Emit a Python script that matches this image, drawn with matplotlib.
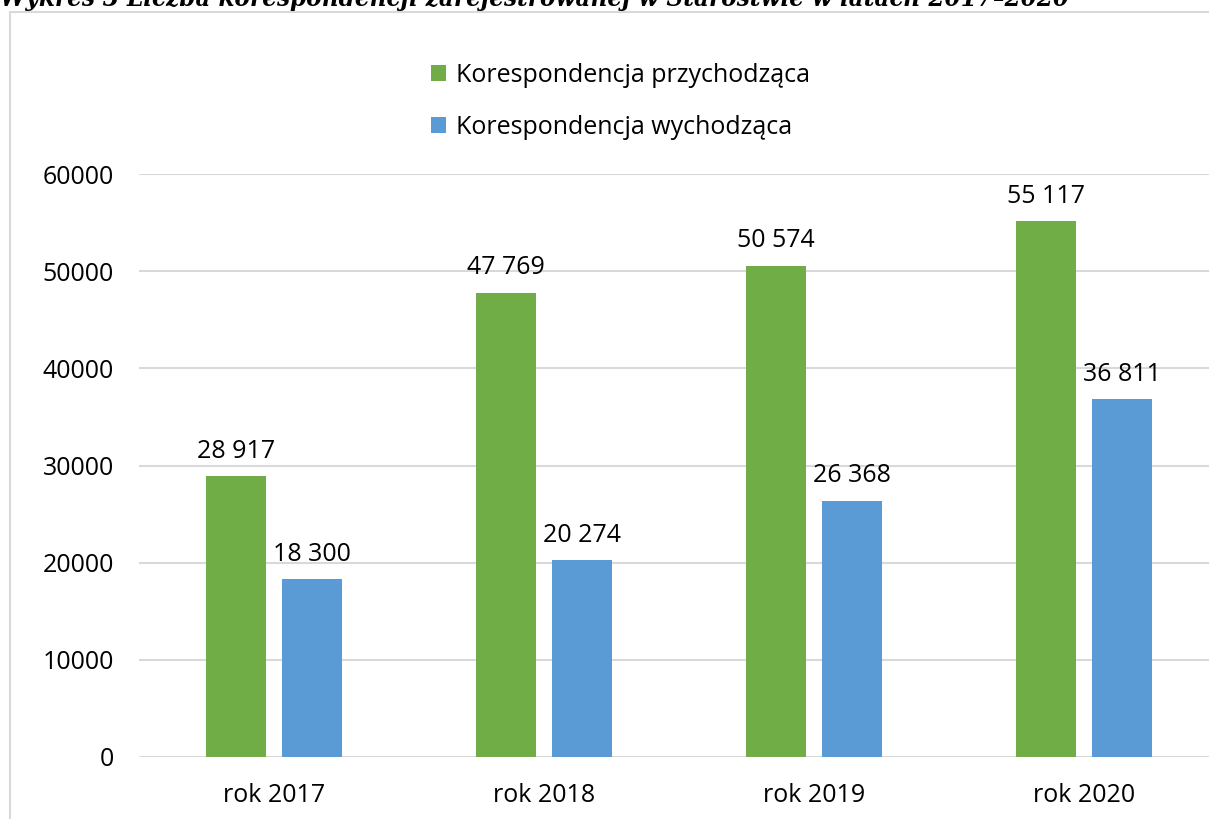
import numpy as np
import matplotlib
matplotlib.use('Agg')
import matplotlib.pyplot as plt
from matplotlib.patches import Rectangle

categories = ['rok 2017', 'rok 2018', 'rok 2019', 'rok 2020']
incoming = [28917, 47769, 50574, 55117]
outgoing = [18300, 20274, 26368, 36811]
series_names = ['Korespondencja przychodząca', 'Korespondencja wychodząca']
yticks = [0, 10000, 20000, 30000, 40000, 50000, 60000]
title = 'Wykres 3 Liczba korespondencji zarejestrowanej w Starostwie w latach 2017–2020'

green = '#70ad47'
blue = '#5b9bd5'
grid = '#d9d9d9'
fs = 18

plt.rcParams['font.family'] = ['Open Sans', 'DejaVu Sans']

W, H = 1209, 819
fig = plt.figure(figsize=(W / 100, H / 100), dpi=100)

# chart frame (cut at right and bottom like the original)
fig.patches.append(Rectangle((10 / W, -0.1), 1.1, 1 - 12 / H + 0.1, transform=fig.transFigure,
                             fill=False, edgecolor=grid, linewidth=1.5))

# title, cut at the top edge as in the source page
fig.text(0.0, 1 - 6 / H, title, family='DejaVu Serif', fontstretch='condensed',
         fontweight='bold', fontstyle='italic', fontsize=18.5, va='baseline', ha='left')

left, right = 139, 139 + 4 * 270
bottom, top = 757, 174
ax = fig.add_axes([left / W, 1 - bottom / H, (right - left) / W, (bottom - top) / H])

x = np.arange(len(categories))
bw = 0.222
off = 0.142
b1 = ax.bar(x - off, incoming, bw, color=green, label=series_names[0], zorder=3)
b2 = ax.bar(x + off, outgoing, bw, color=blue, label=series_names[1], zorder=3)

def fmt(v):
    return '{:,}'.format(v).replace(',', ' ')

for bars, vals in [(b1, incoming), (b2, outgoing)]:
    for r, v in zip(bars, vals):
        ax.annotate(fmt(v), (r.get_x() + r.get_width() / 2, v), xytext=(0, 9),
                    textcoords='offset points', ha='center', va='bottom', fontsize=fs)

ax.set_xlim(-0.5, 3.5)
ax.set_ylim(0, 60000)
ax.set_yticks(yticks)
ax.set_yticklabels([str(t) for t in yticks])
ax.set_xticks(x)
ax.set_xticklabels(categories)
ax.tick_params(axis='both', length=0, labelsize=fs, colors='black')
ax.tick_params(axis='y', pad=18)
ax.tick_params(axis='x', pad=19)
ax.grid(axis='y', color=grid, linewidth=1.5, zorder=0)
for s in ax.spines.values():
    s.set_visible(False)
ax.set_facecolor('none')

ax.legend(loc='upper left', bbox_to_anchor=(418 / W, 1 - 50 / H), bbox_transform=fig.transFigure,
          frameon=False, fontsize=fs, handlelength=0.62, handleheight=0.62, handletextpad=0.4,
          labelspacing=1.1, borderpad=0)

fig.savefig('out.png', dpi=100)
